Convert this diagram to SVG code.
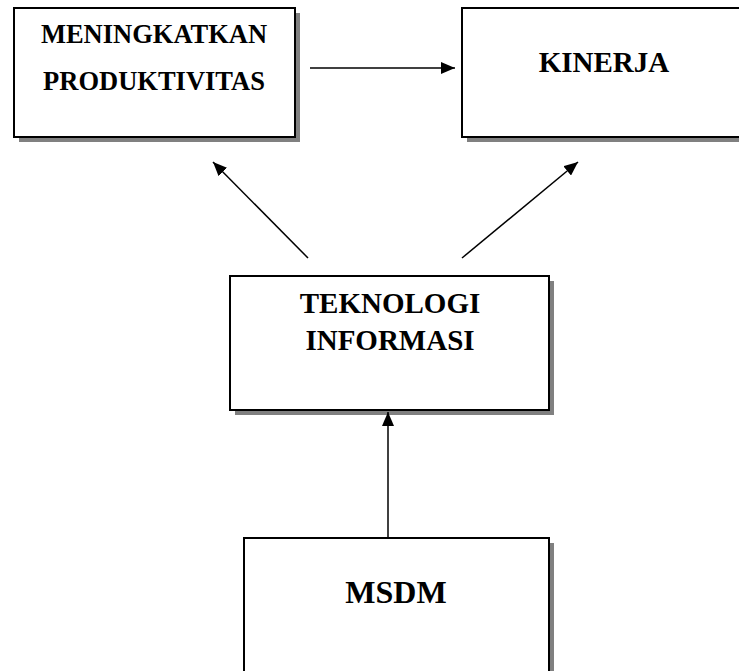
<svg xmlns="http://www.w3.org/2000/svg" width="739" height="671" viewBox="0 0 739 671">
<style>
.shadow{fill:#808080}
.box{fill:#fff;stroke:#000;stroke-width:2}
.lbl{font-family:"Liberation Serif","Times New Roman",serif;font-weight:bold;fill:#000;text-anchor:middle}
.conn line{stroke:#000;stroke-width:1.5}
</style>
<defs>
<marker id="ah" viewBox="0 0 14 12" refX="14" refY="6" markerWidth="14" markerHeight="12" markerUnits="userSpaceOnUse" orient="auto">
<path d="M0,0 L14,6 L0,12 Z" fill="#000"/>
</marker>
</defs>
<rect width="739" height="671" fill="#fff"/>
<g id="node-produktivitas">
<rect class="shadow" x="19" y="13" width="281" height="129"/>
<rect class="box" x="14" y="8" width="281" height="129"/>
<text class="lbl" x="154" y="43" font-size="26.5">MENINGKATKAN</text>
<text class="lbl" x="154" y="90" font-size="26.5">PRODUKTIVITAS</text>
</g>
<g id="node-kinerja">
<rect class="shadow" x="467" y="13" width="284" height="129"/>
<rect class="box" x="462" y="8" width="284" height="129"/>
<text class="lbl" x="604" y="72" font-size="29">KINERJA</text>
</g>
<g id="node-ti">
<rect class="shadow" x="235" y="281" width="319" height="134"/>
<rect class="box" x="230" y="276" width="319" height="134"/>
<text class="lbl" x="390" y="313" font-size="29">TEKNOLOGI</text>
<text class="lbl" x="390" y="350" font-size="29">INFORMASI</text>
</g>
<g id="node-msdm">
<rect class="shadow" x="249" y="543" width="305" height="140"/>
<rect class="box" x="244" y="538" width="305" height="140"/>
<text class="lbl" x="396" y="603" font-size="32">MSDM</text>
</g>
<g class="conn" id="connectors">
<line x1="310" y1="68" x2="455" y2="68" marker-end="url(#ah)"/>
<line x1="308" y1="258" x2="213" y2="162" marker-end="url(#ah)"/>
<line x1="462" y1="258" x2="578" y2="162" marker-end="url(#ah)"/>
<line x1="388" y1="538" x2="388" y2="412" marker-end="url(#ah)"/>
</g>
</svg>
